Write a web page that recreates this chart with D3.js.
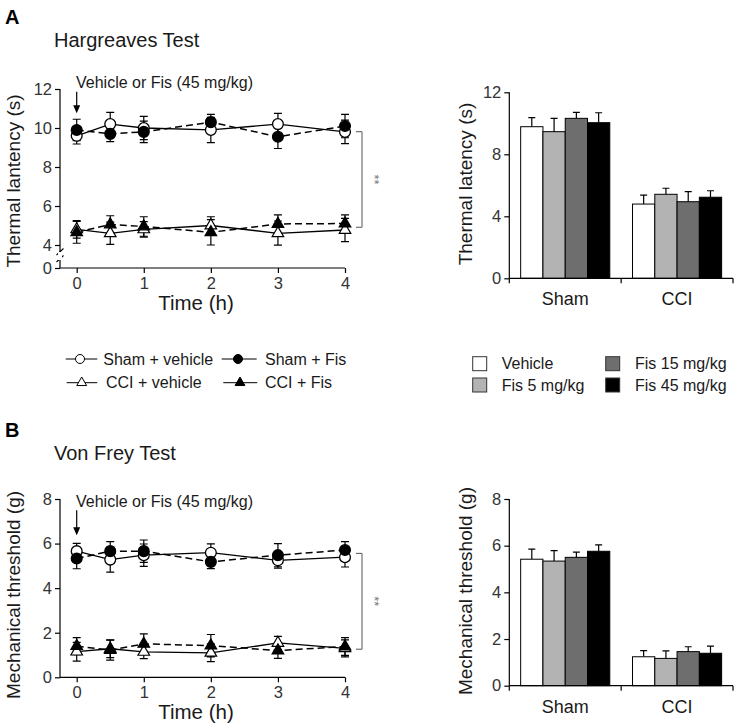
<!DOCTYPE html>
<html><head><meta charset="utf-8">
<script src="https://cdn.jsdelivr.net/npm/d3@7"></script>
<style>body{margin:0;background:#fff} svg{display:block} text{font-family:"Liberation Sans",Arial,sans-serif}</style>
</head><body><svg id="c" width="737" height="728"></svg>
<script>
// ---------- data ----------
const timePoints = [0, 0.5, 1, 2, 3, 4];
const timeTicks = [0, 1, 2, 3, 4];
const lineSeriesNames = ["Sham + vehicle", "Sham + Fis", "CCI + vehicle", "CCI + Fis"];

// Hargreaves (thermal latency, s)
const hgShamVeh    = [9.6, 10.2, 10.0, 9.9, 10.2, 9.8];
const hgShamVehErr = [0.42, 0.6, 0.6, 0.65, 0.55, 0.6];
const hgShamFis    = [9.9, 9.7, 9.8, 10.3, 9.55, 10.1];
const hgShamFisErr = [0.55, 0.4, 0.55, 0.4, 0.6, 0.6];
const hgCCIVeh     = [4.8, 4.6, 4.8, 5.0, 4.6, 4.77];
const hgCCIVehErr  = [0.45, 0.57, 0.4, 0.45, 0.63, 0.6];
const hgCCIFis     = [4.65, 5.05, 4.95, 4.65, 5.08, 5.1];
const hgCCIFisErr  = [0.56, 0.45, 0.5, 0.65, 0.46, 0.44];

// Von Frey (mechanical threshold, g)
const vfShamVeh    = [5.66, 5.28, 5.48, 5.59, 5.25, 5.39];
const vfShamVehErr = [0.35, 0.56, 0.5, 0.4, 0.35, 0.44];
const vfShamFis    = [5.33, 5.66, 5.66, 5.18, 5.48, 5.71];
const vfShamFisErr = [0.46, 0.43, 0.5, 0.3, 0.52, 0.38];
const vfCCIVeh     = [1.15, 1.28, 1.14, 1.1, 1.54, 1.3];
const vfCCIVehErr  = [0.42, 0.4, 0.3, 0.4, 0.3, 0.38];
const vfCCIFis     = [1.4, 1.22, 1.5, 1.42, 1.2, 1.38];
const vfCCIFisErr  = [0.38, 0.45, 0.45, 0.5, 0.35, 0.4];

// bar charts
const barGroups = ["Sham", "CCI"];
const barSeries = ["Vehicle", "Fis 5 mg/kg", "Fis 15 mg/kg", "Fis 45 mg/kg"];
const hgBarSham    = [9.78, 9.46, 10.32, 10.04];
const hgBarShamErr = [0.58, 0.86, 0.39, 0.64];
const hgBarCCI     = [4.79, 5.42, 4.94, 5.23];
const hgBarCCIErr  = [0.58, 0.39, 0.65, 0.42];
const vfBarSham    = [5.42, 5.34, 5.5, 5.76];
const vfBarShamErr = [0.43, 0.45, 0.22, 0.27];
const vfBarCCI     = [1.24, 1.17, 1.46, 1.39];
const vfBarCCIErr  = [0.26, 0.32, 0.21, 0.31];

// ticks
const hgLineTicks = [0, 4, 6, 8, 10, 12];
const hgBarTicks = [0, 4, 8, 12];
const vfLineTicks = [0, 2, 4, 6, 8];
const vfBarTicks = [0, 2, 4, 6, 8];

// ---------- drawing ----------
const svg = d3.select("#c");
const barColors = ["#ffffff", "#b3b3b3", "#6e6e6e", "#000000"];
const FONT_TICK = 16.5;
const fmt = d3.format("d");

function text(g, x, y, s, size, opts = {}) {
  const t = g.append("text").attr("x", x).attr("y", y).text(s)
    .attr("font-size", size).attr("fill", opts.fill || "#1a1a1a");
  if (opts.anchor) t.attr("text-anchor", opts.anchor);
  if (opts.weight) t.attr("font-weight", opts.weight);
  if (opts.rotate !== undefined) t.attr("transform", `rotate(${opts.rotate},${x},${y})`);
  return t;
}

function styleAxis(ax) {
  ax.selectAll(".tick line").attr("stroke", "#000").attr("stroke-width", 1.2);
  ax.selectAll(".tick text").attr("font-size", FONT_TICK).attr("fill", "#333")
    .attr("font-family", '"Liberation Sans",Arial,sans-serif');
  ax.select(".domain").remove();
}

function lineChart(o) {
  const g = svg.append("g");
  const x = d3.scaleLinear().domain([0, 4]).range([76.7, 345]);
  const y = o.y;
  // axes
  const ax = g.append("g").attr("transform", `translate(0,${o.y0})`)
    .call(d3.axisBottom(x).tickValues(timeTicks).tickFormat(fmt).tickSize(5).tickSizeOuter(0).tickPadding(4));
  styleAxis(ax);
  g.append("line").attr("x1", 60).attr("x2", 345).attr("y1", o.y0).attr("y2", o.y0)
    .attr("stroke", "#000").attr("stroke-width", 1.2);
  const ay = g.append("g").attr("transform", "translate(60,0)")
    .call(d3.axisLeft(y).tickValues(o.ticks).tickFormat(fmt).tickSize(5).tickSizeOuter(0).tickPadding(3));
  styleAxis(ay);
  if (o.brk) {
    g.append("line").attr("x1", 60).attr("x2", 60).attr("y1", y(12)).attr("y2", 252)
      .attr("stroke", "#000").attr("stroke-width", 1.2);
    g.append("line").attr("x1", 60).attr("x2", 60).attr("y1", 260).attr("y2", o.y0)
      .attr("stroke", "#000").attr("stroke-width", 1.2);
    g.append("path").attr("d", "M56.5,255 L63.5,248.5 M56.5,262 L63.5,255.5")
      .attr("stroke", "#000").attr("stroke-width", 1.1).attr("fill", "none");
    g.append("rect").attr("x", 58).attr("y", 252).attr("width", 4).attr("height", 8).attr("fill", "#fff");
  } else {
    g.append("line").attr("x1", 60).attr("x2", 60).attr("y1", y(o.ticks[o.ticks.length - 1])).attr("y2", o.y0)
      .attr("stroke", "#000").attr("stroke-width", 1.2);
  }
  // series
  const line = d3.line().x(d => x(d.t)).y(d => y(d.v));
  const data = o.series.map(s => ({...s, pts: timePoints.map((t, i) => ({t, v: s.vals[i], e: s.errs[i]}))}));
  data.forEach(s => {
    g.append("path").datum(s.pts).attr("d", line).attr("fill", "none").attr("stroke", "#000")
      .attr("stroke-width", s.dashed ? 1.5 : 1.3).attr("stroke-dasharray", s.dashed ? "7,4" : null);
  });
  data.forEach(s => {
    s.pts.forEach(p => {
      const cx = x(p.t), top = y(p.v + p.e), bot = y(p.v - p.e);
      g.append("path").attr("d", `M${cx},${top}V${bot}M${cx - 4},${top}H${cx + 4}M${cx - 4},${bot}H${cx + 4}`)
        .attr("stroke", "#000").attr("stroke-width", 1.2).attr("fill", "none");
    });
  });
  const order = data.filter(s => !s.filled).concat(data.filter(s => s.filled));
  order.forEach(s => {
    s.pts.forEach(p => {
      if (s.marker === "circle") {
        g.append("circle").attr("cx", x(p.t)).attr("cy", y(p.v)).attr("r", 5.4)
          .attr("fill", s.filled ? "#000" : "#fff").attr("stroke", "#000").attr("stroke-width", 1.3);
      } else {
        g.append("path").attr("d", d3.symbol(d3.symbolTriangle, 58)())
          .attr("transform", `translate(${x(p.t)},${y(p.v)})`)
          .attr("fill", s.filled ? "#000" : "#fff").attr("stroke", "#000").attr("stroke-width", 1.2);
      }
    });
  });
  // bracket
  const bx = 362, bt = y(o.bracket[0]), bb = y(o.bracket[1]);
  g.append("path").attr("d", `M356,${bt}H${bx}V${bb}H356`).attr("fill", "none")
    .attr("stroke", "#555").attr("stroke-width", 1);
  text(g, 370, (bt + bb) / 2, "**", 13, {anchor: "middle", fill: "#777", rotate: 90});
  // annotation arrow
  const ax0 = x(0);
  text(g, 76, o.annY, "Vehicle or Fis (45 mg/kg)", 16);
  g.append("line").attr("x1", ax0).attr("x2", ax0).attr("y1", o.annY + 3.5).attr("y2", o.annY + o.arrowLen - 6)
    .attr("stroke", "#000").attr("stroke-width", 1.2);
  g.append("path").attr("d", `M${ax0 - 3.5},${o.annY + o.arrowLen - 8}L${ax0 + 3.5},${o.annY + o.arrowLen - 8}L${ax0},${o.annY + o.arrowLen}Z`)
    .attr("fill", "#000");
  // labels
  text(g, 196, o.y0 + 42, "Time (h)", 20.5, {anchor: "middle"});
  text(g, 20, o.ylabY, o.ylab, 19, {anchor: "middle", rotate: -90});
}

function barChart(o) {
  const g = svg.append("g");
  const x0 = d3.scaleBand().domain(barGroups).range([509.3, 733]).paddingInner(0).paddingOuter(0);
  const x1 = d3.scaleBand().domain(barSeries).range([0, x0.bandwidth()]).paddingInner(0).paddingOuter(0.51);
  const y = o.y;
  const vals = [o.sham, o.cci], errs = [o.shamErr, o.cciErr];
  barGroups.forEach((grp, gi) => {
    barSeries.forEach((s, si) => {
      const bx = x0(grp) + x1(s), w = x1.bandwidth(), v = vals[gi][si], e = errs[gi][si];
      const cx = bx + w / 2;
      g.append("path").attr("d", `M${cx},${y(v)}V${y(v + e)}M${cx - 3.5},${y(v + e)}H${cx + 3.5}`)
        .attr("stroke", "#000").attr("stroke-width", 1.2).attr("fill", "none");
      g.append("rect").attr("x", bx).attr("y", y(v)).attr("width", w).attr("height", y(0) - y(v))
        .attr("fill", barColors[si]).attr("stroke", "#000").attr("stroke-width", 1);
    });
  });
  const y0 = y(0);
  const ay = g.append("g").attr("transform", "translate(509.3,0)")
    .call(d3.axisLeft(y).tickValues(o.ticks).tickFormat(fmt).tickSize(5).tickSizeOuter(0).tickPadding(3));
  styleAxis(ay);
  g.append("line").attr("x1", 509.3).attr("x2", 509.3).attr("y1", y(o.ticks[o.ticks.length - 1])).attr("y2", y0)
    .attr("stroke", "#000").attr("stroke-width", 1.2);
  g.append("line").attr("x1", 509.3).attr("x2", 733).attr("y1", y0).attr("y2", y0)
    .attr("stroke", "#000").attr("stroke-width", 1.2);
  [x0("Sham"), x0("CCI"), x0("CCI") + x0.bandwidth()].forEach(tx => {
    g.append("line").attr("x1", tx).attr("x2", tx).attr("y1", y0).attr("y2", y0 + 5)
      .attr("stroke", "#000").attr("stroke-width", 1.2);
  });
  barGroups.forEach(grp => text(g, x0(grp) + x0.bandwidth() / 2, y0 + 27, grp, 18, {anchor: "middle"}));
  text(g, 472, o.ylabY, o.ylab, 19, {anchor: "middle", rotate: -90});
}

// Panel A
text(svg, 5, 24, "A", 20, {weight: "bold", fill: "#000"});
text(svg, 54, 46.5, "Hargreaves Test", 20);
lineChart({
  y: d3.scaleLinear().domain([0, 4, 12]).range([268, 245, 89]), y0: 268, ticks: hgLineTicks, brk: true,
  series: [
    {vals: hgShamVeh, errs: hgShamVehErr, marker: "circle", filled: false, dashed: false},
    {vals: hgShamFis, errs: hgShamFisErr, marker: "circle", filled: true, dashed: true},
    {vals: hgCCIVeh, errs: hgCCIVehErr, marker: "tri", filled: false, dashed: false},
    {vals: hgCCIFis, errs: hgCCIFisErr, marker: "tri", filled: true, dashed: true}
  ],
  bracket: [9.81, 4.91], annY: 88.3, arrowLen: 25, ylab: "Thermal lantency (s)", ylabY: 181
});
barChart({
  y: d3.scaleLinear().domain([0, 12]).range([278.3, 92.3]), ticks: hgBarTicks,
  sham: hgBarSham, shamErr: hgBarShamErr, cci: hgBarCCI, cciErr: hgBarCCIErr,
  ylab: "Thermal latency (s)", ylabY: 184
});

// Legends
const lg = svg.append("g");
const legendPos = [
  {lx1: 65.7, lx2: 97.3, sx: 80, tx: 103.3, cy: 359},
  {lx1: 221.7, lx2: 256.7, sx: 238, tx: 265, cy: 359},
  {lx1: 66.7, lx2: 97.3, sx: 81.7, tx: 106, cy: 382.7},
  {lx1: 223.3, lx2: 257.3, sx: 240, tx: 265, cy: 382.7}
];
const legendMarks = [["circle", false], ["circle", true], ["tri", false], ["tri", true]];
lineSeriesNames.forEach((name, i) => {
  const p = legendPos[i], [m, f] = legendMarks[i];
  lg.append("line").attr("x1", p.lx1).attr("x2", p.lx2).attr("y1", p.cy).attr("y2", p.cy)
    .attr("stroke", "#000").attr("stroke-width", 1);
  if (m === "circle") lg.append("circle").attr("cx", p.sx).attr("cy", p.cy).attr("r", 4.5)
    .attr("fill", f ? "#000" : "#fff").attr("stroke", "#000").attr("stroke-width", 1);
  else lg.append("path").attr("d", d3.symbol(d3.symbolTriangle, 42)()).attr("transform", `translate(${p.sx},${p.cy})`)
    .attr("fill", f ? "#000" : "#fff").attr("stroke", "#000").attr("stroke-width", 1);
  text(lg, p.tx, p.cy + 5.7, name, 16);
});
const sqPos = [[472.7, 356.7, 501.7], [472.7, 378, 501.7], [605.7, 356.7, 635], [605.7, 378, 635]];
barSeries.forEach((s, i) => {
  const [sx, sy, tx] = sqPos[i];
  lg.append("rect").attr("x", sx).attr("y", sy).attr("width", 14).attr("height", 14)
    .attr("fill", barColors[i]).attr("stroke", "#333").attr("stroke-width", 1);
  text(lg, tx, sy + 7 + 5.7, s, 16);
});

// Panel B
text(svg, 5, 437, "B", 20, {weight: "bold", fill: "#000"});
text(svg, 54, 460, "Von Frey Test", 20);
lineChart({
  y: d3.scaleLinear().domain([0, 8]).range([677.3, 499]), y0: 677.3, ticks: vfLineTicks, brk: false,
  series: [
    {vals: vfShamVeh, errs: vfShamVehErr, marker: "circle", filled: false, dashed: false},
    {vals: vfShamFis, errs: vfShamFisErr, marker: "circle", filled: true, dashed: true},
    {vals: vfCCIVeh, errs: vfCCIVehErr, marker: "tri", filled: false, dashed: false},
    {vals: vfCCIFis, errs: vfCCIFisErr, marker: "tri", filled: true, dashed: true}
  ],
  bracket: [5.56, 1.26], annY: 506.7, arrowLen: 28.5, ylab: "Mechanical threshold (g)", ylabY: 595
});
barChart({
  y: d3.scaleLinear().domain([0, 8]).range([685.7, 499]), ticks: vfBarTicks,
  sham: vfBarSham, shamErr: vfBarShamErr, cci: vfBarCCI, cciErr: vfBarCCIErr,
  ylab: "Mechanical threshold (g)", ylabY: 591
});
</script></body></html>
